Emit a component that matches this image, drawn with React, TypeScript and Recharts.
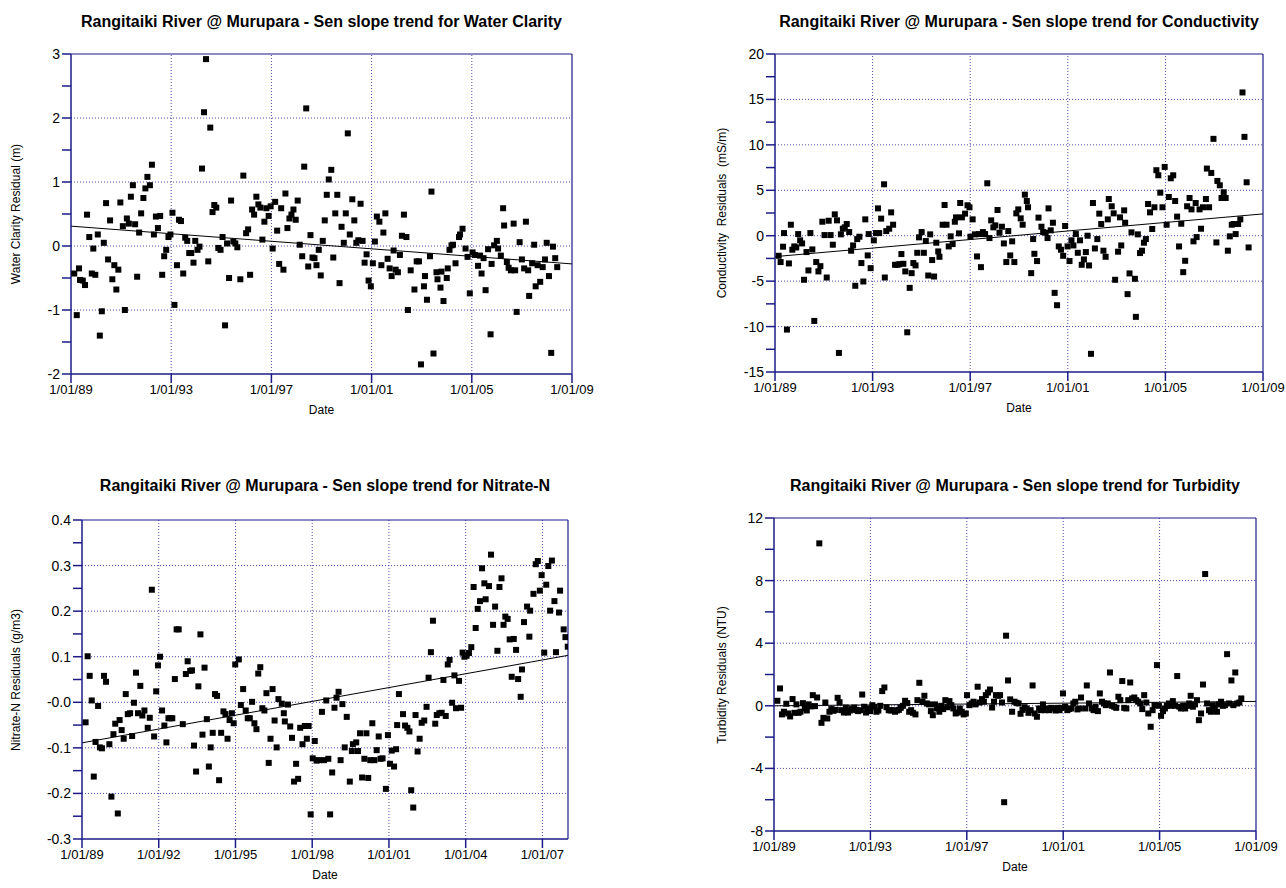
import React from 'react';
import { ScatterChart, Scatter, XAxis, YAxis, ReferenceLine } from 'recharts';

// ---- Water clarity residuals (m) ----
const clarityDates = [
  1989.13, 1989.23, 1989.32, 1989.36, 1989.47, 1989.56, 1989.64, 1989.73, 1989.83, 1989.89,
  1989.97, 1990.07, 1990.15, 1990.23, 1990.31, 1990.4, 1990.48, 1990.56, 1990.65, 1990.73,
  1990.81, 1990.89, 1990.97, 1991.07, 1991.15, 1991.23, 1991.31, 1991.39, 1991.47, 1991.56,
  1991.64, 1991.72, 1991.8, 1991.89, 1991.97, 1992.05, 1992.15, 1992.23, 1992.31, 1992.39,
  1992.47, 1992.56, 1992.64, 1992.72, 1992.8, 1992.89, 1992.97, 1993.05, 1993.13, 1993.23,
  1993.31, 1993.39, 1993.48, 1993.56, 1993.64, 1993.72, 1993.8, 1993.89, 1993.96, 1994.05,
  1994.13, 1994.23, 1994.31, 1994.39, 1994.48, 1994.56, 1994.65, 1994.72, 1994.8, 1994.88,
  1994.97, 1995.05, 1995.15, 1995.23, 1995.31, 1995.39, 1995.48, 1995.56, 1995.64, 1995.76,
  1995.88, 1995.99, 1996.07, 1996.15, 1996.23, 1996.31, 1996.4, 1996.48, 1996.56, 1996.64,
  1996.72, 1996.8, 1996.89, 1996.97, 1997.05, 1997.15, 1997.23, 1997.31, 1997.39, 1997.48,
  1997.56, 1997.64, 1997.72, 1997.8, 1997.88, 1997.97, 1998.05, 1998.13, 1998.23, 1998.31,
  1998.39, 1998.47, 1998.56, 1998.64, 1998.72, 1998.8, 1998.89, 1998.97, 1999.05, 1999.13,
  1999.21, 1999.29, 1999.39, 1999.47, 1999.55, 1999.63, 1999.72, 1999.8, 1999.89, 1999.97,
  2000.05, 2000.13, 2000.23, 2000.31, 2000.39, 2000.47, 2000.56, 2000.64, 2000.72, 2000.8,
  2000.88, 2000.97, 2001.05, 2001.13, 2001.21, 2001.31, 2001.39, 2001.47, 2001.55, 2001.64,
  2001.72, 2001.8, 2001.88, 2001.96, 2002.05, 2002.13, 2002.21, 2002.29, 2002.39, 2002.45,
  2002.56, 2002.71, 2002.8, 2002.89, 2002.97, 2003.09, 2003.13, 2003.21, 2003.33, 2003.39,
  2003.47, 2003.59, 2003.63, 2003.75, 2003.79, 2003.87, 2004.0, 2004.04, 2004.11, 2004.19,
  2004.25, 2004.35, 2004.49, 2004.53, 2004.63, 2004.75, 2004.83, 2004.92, 2005.03, 2005.12,
  2005.25, 2005.33, 2005.39, 2005.47, 2005.55, 2005.65, 2005.75, 2005.79, 2005.89, 2006.0,
  2006.05, 2006.16, 2006.25, 2006.29, 2006.4, 2006.47, 2006.56, 2006.67, 2006.73, 2006.79,
  2006.91, 2007.0, 2007.09, 2007.16, 2007.25, 2007.29, 2007.41, 2007.49, 2007.55, 2007.63,
  2007.73, 2007.83, 2007.92, 2007.99, 2008.08, 2008.17, 2008.24, 2008.33, 2008.41,
];
const clarityValues = [
  -0.43, -1.08, -0.35, -0.53, -0.54, -0.61, 0.49, 0.14, -0.43, -0.04,
  -0.45, 0.18, -1.4, -1.02, 0.05, 0.67, -0.21, 0.4, -0.52, -0.3,
  -0.68, -0.37, 0.68, 0.31, -1.0, 0.43, 0.35, 0.77, 0.95, 0.34,
  -0.48, 0.21, 0.51, 0.75, 0.9, 1.08, 0.95, 1.27, 0.18, 0.46,
  0.28, 0.47, -0.45, -0.16, -0.06, 0.14, 0.18, 0.52, -0.92, -0.3,
  0.41, 0.39, -0.43, 0.13, 0.08, -0.11, -0.11, -0.26, 0.08, -0.06,
  -0.01, 1.21, 2.09, 2.92, -0.24, 1.85, 0.53, 0.64, 0.6, -0.03,
  -0.06, 0.14, -1.24, 0.04, -0.5, 0.71, 0.07, 0.04, -0.02, -0.52,
  1.1, 0.2, 0.26, -0.45, 0.57, 0.49, 0.77, 0.65, 0.6, 0.1,
  0.38, 0.59, 0.47, 0.62, -0.04, 0.69, 0.24, -0.28, 0.59, -0.37,
  0.82, 0.28, 0.43, 0.49, 0.57, 0.41, 0.71, 0.02, -0.16, 1.24,
  2.15, -0.32, 0.17, -0.18, -0.19, -0.3, -0.06, -0.46, 0.08, 0.4,
  0.8, 1.04, 1.19, -0.18, 0.51, 0.8, -0.58, 0.3, 0.05, 0.51,
  1.76, 0.18, 0.73, 0.4, 0.05, 0.09, 0.66, 0.08, -0.26, -0.13,
  -0.54, -0.63, -0.27, 0.07, 0.46, 0.38, -0.3, 0.21, 0.51, -0.2,
  -0.35, -0.47, -0.07, -0.37, -0.41, -0.14, 0.16, 0.49, 0.14, -1.0,
  -0.38, -0.68, -0.24, -0.24, -1.85, -0.63, -0.47, -0.84, -0.16, 0.85,
  -1.68, -0.41, -0.52, -0.65, -0.4, -0.86, -0.5, -0.35, -0.06, 0.01,
  0.02, -0.27, 0.14, 0.18, 0.27, -0.04, -0.17, -0.74, -0.1, -0.14,
  -0.31, -0.15, -0.43, -0.19, -0.69, -0.05, -1.38, -0.28, 0.01, 0.08,
  -0.04, -0.15, 0.59, 0.32, -0.25, -0.34, -0.38, 0.35, -0.38, -1.03,
  0.06, -0.21, -0.35, 0.38, -0.38, -0.78, -0.27, 0.02, -0.63, -0.3,
  -0.56, -0.33, -0.21, 0.05, -0.47, -1.67, -0.01, -0.19, -0.33,
];
const clarityTrend = [{ x: 1989, y: 0.31 }, { x: 2009, y: -0.28 }];
const clarityXDomain = [1989, 2009];
const clarityXTicks = [1989, 1993, 1997, 2001, 2005, 2009];
const clarityYTicks = [3, 2.5, 2, 1.5, 1, 0.5, 0, -0.5, -1, -1.5, -2];
const clarityYMajor = [3, 2, 1, 0, -1, -2];
const clarityYLabels = ['3', '2', '1', '0', '-1', '-2'];

// ---- Conductivity residuals (mS/m) ----
const condDates = [
  1989.15, 1989.23, 1989.33, 1989.37, 1989.49, 1989.57, 1989.65, 1989.71, 1989.79, 1989.87,
  1989.95, 1990.03, 1990.11, 1990.19, 1990.29, 1990.37, 1990.45, 1990.53, 1990.61, 1990.69,
  1990.78, 1990.86, 1990.94, 1991.03, 1991.12, 1991.2, 1991.28, 1991.37, 1991.45, 1991.54,
  1991.62, 1991.7, 1991.78, 1991.86, 1991.94, 1992.04, 1992.12, 1992.2, 1992.29, 1992.37,
  1992.46, 1992.54, 1992.62, 1992.7, 1992.8, 1992.84, 1992.92, 1993.05, 1993.14, 1993.22,
  1993.27, 1993.35, 1993.47, 1993.5, 1993.56, 1993.68, 1993.76, 1993.84, 1993.92, 1994.02,
  1994.1, 1994.18, 1994.26, 1994.34, 1994.42, 1994.52, 1994.6, 1994.67, 1994.76, 1994.83,
  1994.9, 1995.01, 1995.1, 1995.18, 1995.28, 1995.36, 1995.44, 1995.52, 1995.61, 1995.69,
  1995.74, 1995.87, 1995.95, 1996.03, 1996.12, 1996.2, 1996.28, 1996.37, 1996.42, 1996.54,
  1996.59, 1996.66, 1996.79, 1996.89, 1996.97, 1997.01, 1997.1, 1997.19, 1997.28, 1997.36,
  1997.44, 1997.52, 1997.61, 1997.7, 1997.79, 1997.86, 1997.95, 1998.03, 1998.12, 1998.2,
  1998.3, 1998.38, 1998.48, 1998.56, 1998.64, 1998.72, 1998.81, 1998.89, 1998.97, 1999.07,
  1999.15, 1999.24, 1999.32, 1999.37, 1999.5, 1999.58, 1999.63, 1999.74, 1999.8, 1999.92,
  1999.99, 2000.09, 2000.17, 2000.21, 2000.3, 2000.39, 2000.46, 2000.56, 2000.63, 2000.72,
  2000.81, 2000.89, 2000.99, 2001.07, 2001.15, 2001.23, 2001.33, 2001.41, 2001.5, 2001.57,
  2001.66, 2001.74, 2001.81, 2001.87, 2001.95, 2002.03, 2002.11, 2002.21, 2002.29, 2002.37,
  2002.46, 2002.55, 2002.64, 2002.68, 2002.8, 2002.88, 2002.94, 2003.06, 2003.14, 2003.19,
  2003.31, 2003.35, 2003.45, 2003.53, 2003.61, 2003.75, 2003.79, 2003.87, 2003.96, 2004.04,
  2004.12, 2004.2, 2004.29, 2004.37, 2004.46, 2004.55, 2004.63, 2004.71, 2004.79, 2004.88,
  2004.97, 2005.05, 2005.14, 2005.22, 2005.32, 2005.4, 2005.48, 2005.56, 2005.65, 2005.73,
  2005.81, 2005.89, 2005.99, 2006.07, 2006.15, 2006.24, 2006.28, 2006.4, 2006.46, 2006.54,
  2006.66, 2006.7, 2006.79, 2006.88, 2006.97, 2007.09, 2007.13, 2007.23, 2007.3, 2007.39,
  2007.47, 2007.56, 2007.64, 2007.72, 2007.8, 2007.88, 2007.98, 2008.07, 2008.16, 2008.24,
  2008.33, 2008.41,
];
const condValues = [
  -2.21, -2.9, -1.21, 0.29, -10.33, -3.05, 1.21, -1.54, -1.18, -1.29,
  0.18, -0.51, -0.85, -4.85, -1.8, -3.82, 0.29, -1.51, -9.38, -2.9,
  -3.93, -3.35, 1.54, 0.07, -4.6, 1.65, 0.07, -0.99, 2.35, 1.69,
  -12.9, 0.15, 0.77, 0.92, 1.29, 0.4, -1.65, -1.07, -5.51, -0.37,
  -0.11, -3.01, -5.04, 1.8, -2.17, 0.18, -3.57, -0.51, 0.29, 3.01,
  0.29, 1.88, 5.66, -4.6, 0.51, 0.77, 2.57, 1.21, -3.2, -3.2,
  -3.13, -2.02, -3.09, -3.93, -10.63, -5.74, -4.12, -3.01, -3.27, -1.88,
  -0.18, 0.4, -1.88, -0.59, -4.38, 0.15, -2.68, -4.49, -0.77, -1.73,
  -2.32, 1.21, 3.38, 1.21, -1.18, -0.07, -0.92, 1.54, 2.02, 0.26,
  3.6, 2.02, 2.43, 3.35, 3.13, -0.11, 1.8, 0.15, -2.28, 0.18,
  -3.46, 0.4, 0.18, 5.77, -0.26, 1.69, 0.92, 1.14, 2.83, 0.33,
  0.99, -0.85, -2.9, 0.51, -2.17, -0.62, -2.9, 2.46, 2.9, 1.91,
  1.21, 4.52, 3.82, 3.13, -4.12, -0.37, -1.99, -2.79, 1.99, 0.99,
  0.4, 0.33, -0.26, 3.01, 0.59, 1.43, -6.29, -7.65, -1.18, -1.54,
  -2.21, 1.07, -1.18, -2.79, -0.51, -1.07, 0.18, -1.88, -0.51, -3.2,
  -2.61, -1.8, 0.0, -3.27, -13.0, 3.6, -1.4, -0.37, 2.43, 1.29,
  -1.65, -2.32, 1.8, 4.04, 3.24, 2.46, -4.85, -1.76, 2.02, -1.07,
  2.79, 1.43, -6.43, -4.15, 0.37, -4.74, -8.93, 0.15, -1.91, -1.65,
  -0.77, -0.37, 3.49, 2.57, 0.74, 3.13, 7.21, 6.65, 4.74, 3.13,
  7.57, 1.21, 4.26, 6.32, 6.65, 3.82, 2.1, -1.18, 1.32, -4.01,
  -2.76, 3.24, 4.15, 2.9, -0.62, 3.6, -0.15, 2.9, 0.77, 3.13,
  4.04, 7.39, 3.13, 6.91, 10.66, -0.74, 6.03, 5.55, 4.15, 4.78,
  4.15, -1.65, -0.07, 1.21, 1.29, 0.18, 1.29, 1.8, 15.77, 10.88,
  5.88, -1.29,
];
const condTrend = [{ x: 1989, y: -2.3 }, { x: 2009, y: 2.4 }];
const condXDomain = [1989, 2009];
const condXTicks = [1989, 1993, 1997, 2001, 2005, 2009];
const condYTicks = [20, 17.5, 15, 12.5, 10, 7.5, 5, 2.5, 0, -2.5, -5, -7.5, -10, -12.5, -15];
const condYMajor = [20, 15, 10, 5, 0, -5, -10, -15];
const condYLabels = ['20', '15', '10', '5', '0', '-5', '-10', '-15'];

// ---- Nitrate-N residuals (g/m3) ----
const nitrateDates = [
  1989.14, 1989.22, 1989.3, 1989.38, 1989.46, 1989.53, 1989.63, 1989.7, 1989.78, 1989.86,
  1989.94, 1990.07, 1990.15, 1990.23, 1990.3, 1990.4, 1990.47, 1990.55, 1990.63, 1990.71,
  1990.79, 1990.88, 1990.96, 1991.03, 1991.11, 1991.19, 1991.28, 1991.36, 1991.44, 1991.57,
  1991.65, 1991.73, 1991.82, 1991.9, 1991.97, 1992.05, 1992.13, 1992.22, 1992.3, 1992.38,
  1992.46, 1992.53, 1992.63, 1992.7, 1992.78, 1992.94, 1993.06, 1993.13, 1993.23, 1993.3,
  1993.38, 1993.46, 1993.55, 1993.63, 1993.71, 1993.79, 1993.88, 1993.96, 1994.03, 1994.11,
  1994.2, 1994.28, 1994.36, 1994.44, 1994.53, 1994.61, 1994.69, 1994.77, 1994.86, 1994.93,
  1994.99, 1995.13, 1995.21, 1995.3, 1995.4, 1995.48, 1995.56, 1995.65, 1995.74, 1995.82,
  1995.89, 1995.97, 1996.05, 1996.13, 1996.21, 1996.3, 1996.37, 1996.45, 1996.53, 1996.61,
  1996.68, 1996.81, 1996.89, 1996.93, 1997.05, 1997.14, 1997.21, 1997.29, 1997.37, 1997.45,
  1997.53, 1997.62, 1997.71, 1997.79, 1997.86, 1997.94, 1998.02, 1998.1, 1998.17, 1998.25,
  1998.38, 1998.46, 1998.55, 1998.63, 1998.7, 1998.78, 1998.87, 1998.95, 1999.03, 1999.11,
  1999.18, 1999.27, 1999.35, 1999.47, 1999.55, 1999.59, 1999.72, 1999.79, 1999.87, 1999.95,
  2000.04, 2000.12, 2000.19, 2000.27, 2000.35, 2000.43, 2000.52, 2000.6, 2000.67, 2000.75,
  2000.88, 2000.96, 2001.04, 2001.11, 2001.2, 2001.28, 2001.32, 2001.39, 2001.55, 2001.63,
  2001.72, 2001.8, 2001.87, 2001.95, 2002.04, 2002.12, 2002.2, 2002.28, 2002.38, 2002.47,
  2002.55, 2002.64, 2002.72, 2002.81, 2002.87, 2002.97, 2003.06, 2003.13, 2003.22, 2003.3,
  2003.37, 2003.47, 2003.56, 2003.62, 2003.74, 2003.82, 2003.88, 2003.95, 2004.03, 2004.13,
  2004.22, 2004.31, 2004.39, 2004.47, 2004.56, 2004.64, 2004.73, 2004.78, 2004.91, 2004.99,
  2005.07, 2005.15, 2005.24, 2005.32, 2005.4, 2005.48, 2005.55, 2005.64, 2005.72, 2005.8,
  2005.88, 2005.97, 2006.05, 2006.15, 2006.2, 2006.28, 2006.4, 2006.49, 2006.52, 2006.65,
  2006.74, 2006.82, 2006.9, 2006.97, 2007.07, 2007.15, 2007.23, 2007.3, 2007.37, 2007.47,
  2007.53, 2007.65, 2007.69, 2007.83, 2007.9, 2007.99,
];
const nitrateValues = [
  -0.044, 0.101, 0.058, 0.004, -0.163, -0.087, -0.008, -0.099, -0.101, 0.058,
  0.045, -0.092, -0.207, -0.07, -0.047, -0.244, -0.039, -0.061, -0.08, 0.018,
  -0.026, -0.024, -0.074, -0.001, 0.065, -0.024, 0.036, -0.029, -0.018, -0.056,
  -0.034, 0.247, -0.075, 0.024, 0.081, 0.1, -0.018, -0.051, -0.088, -0.035,
  -0.035, -0.035, 0.051, 0.16, 0.16, -0.048, 0.062, 0.09, 0.069, 0.07,
  -0.095, -0.152, 0.035, 0.149, -0.071, 0.076, -0.037, -0.141, -0.099, -0.067,
  0.018, 0.014, -0.171, -0.067, -0.02, -0.026, -0.08, -0.039, -0.024, -0.046,
  0.083, 0.094, -0.006, 0.029, -0.018, -0.035, -0.035, 0.001, -0.046, -0.059,
  0.063, 0.077, -0.013, -0.018, 0.02, -0.133, -0.08, 0.029, -0.04, -0.099,
  0.007, -0.003, -0.024, -0.042, -0.005, -0.053, -0.078, -0.174, -0.135, -0.168,
  -0.056, -0.092, -0.052, -0.08, -0.052, -0.246, -0.123, -0.085, -0.128, -0.127,
  -0.021, -0.127, 0.004, -0.124, -0.246, -0.154, -0.012, 0.01, 0.023, -0.127,
  -0.004, -0.099, -0.032, -0.174, -0.107, -0.092, -0.088, -0.107, -0.068, -0.165,
  -0.124, -0.068, -0.166, -0.127, -0.046, -0.127, -0.105, -0.075, -0.124, -0.123,
  -0.19, -0.072, -0.135, -0.106, -0.141, -0.103, -0.05, 0.018, -0.026, -0.051,
  -0.056, -0.064, -0.193, -0.231, -0.028, -0.108, -0.08, -0.045, -0.04, -0.01,
  0.054, 0.11, 0.179, -0.047, -0.028, -0.024, -0.023, 0.049, -0.03, 0.083,
  0.093, -0.001, 0.059, -0.013, 0.047, -0.012, 0.109, 0.1, 0.102, 0.108,
  0.121, 0.253, 0.163, 0.205, 0.222, 0.294, 0.261, 0.226, 0.255, 0.324,
  0.17, 0.21, 0.113, 0.253, 0.272, 0.17, 0.188, 0.183, 0.138, 0.056,
  0.139, 0.115, 0.051, 0.012, 0.072, 0.176, 0.21, 0.144, 0.201, 0.238,
  0.303, 0.31, 0.245, 0.279, 0.109, 0.258, 0.299, 0.201, 0.311, 0.222,
  0.11, 0.197, 0.245, 0.16, 0.143, 0.122,
];
const nitrateTrend = [{ x: 1989, y: -0.089 }, { x: 2008, y: 0.103 }];
const nitrateXDomain = [1989, 2008];
const nitrateXTicks = [1989, 1992, 1995, 1998, 2001, 2004, 2007];
const nitrateYTicks = [0.4, 0.35, 0.3, 0.25, 0.2, 0.15, 0.1, 0.05, 0, -0.05, -0.1, -0.15, -0.2, -0.25, -0.3];
const nitrateYMajor = [0.4, 0.3, 0.2, 0.1, 0, -0.1, -0.2, -0.3];
const nitrateYLabels = ['0.4', '0.3', '0.2', '0.1', '-0.0', '-0.1', '-0.2', '-0.3'];

// ---- Turbidity residuals (NTU) ----
const turbDates = [
  1989.14, 1989.25, 1989.33, 1989.41, 1989.51, 1989.59, 1989.67, 1989.77, 1989.85, 1989.93,
  1990.02, 1990.1, 1990.2, 1990.28, 1990.36, 1990.44, 1990.53, 1990.61, 1990.7, 1990.79,
  1990.88, 1990.97, 1991.05, 1991.13, 1991.21, 1991.3, 1991.38, 1991.47, 1991.56, 1991.64,
  1991.72, 1991.8, 1991.9, 1991.98, 1992.07, 1992.15, 1992.23, 1992.33, 1992.41, 1992.49,
  1992.57, 1992.66, 1992.74, 1992.82, 1992.9, 1992.99, 1993.08, 1993.16, 1993.25, 1993.33,
  1993.41, 1993.49, 1993.58, 1993.67, 1993.76, 1993.84, 1993.92, 1994.02, 1994.1, 1994.18,
  1994.26, 1994.35, 1994.44, 1994.53, 1994.61, 1994.69, 1994.77, 1994.87, 1994.95, 1995.03,
  1995.16, 1995.24, 1995.34, 1995.43, 1995.51, 1995.59, 1995.68, 1995.76, 1995.86, 1995.94,
  1996.02, 1996.11, 1996.19, 1996.28, 1996.36, 1996.44, 1996.54, 1996.62, 1996.71, 1996.79,
  1996.87, 1996.96, 1997.01, 1997.11, 1997.2, 1997.28, 1997.36, 1997.45, 1997.53, 1997.63,
  1997.71, 1997.79, 1997.88, 1997.96, 1998.05, 1998.13, 1998.21, 1998.3, 1998.38, 1998.46,
  1998.55, 1998.63, 1998.71, 1998.8, 1998.88, 1998.98, 1999.06, 1999.15, 1999.23, 1999.31,
  1999.4, 1999.48, 1999.56, 1999.65, 1999.73, 1999.82, 1999.91, 2000.0, 2000.08, 2000.16,
  2000.25, 2000.33, 2000.41, 2000.5, 2000.6, 2000.68, 2000.76, 2000.85, 2000.93, 2000.99,
  2001.08, 2001.17, 2001.25, 2001.33, 2001.42, 2001.5, 2001.59, 2001.67, 2001.74, 2001.91,
  2001.98, 2002.07, 2002.18, 2002.26, 2002.34, 2002.44, 2002.52, 2002.61, 2002.69, 2002.77,
  2002.85, 2002.94, 2003.03, 2003.12, 2003.2, 2003.29, 2003.37, 2003.45, 2003.53, 2003.62,
  2003.7, 2003.78, 2003.86, 2003.95, 2004.03, 2004.11, 2004.2, 2004.28, 2004.36, 2004.45,
  2004.53, 2004.63, 2004.71, 2004.79, 2004.89, 2004.97, 2005.06, 2005.14, 2005.22, 2005.3,
  2005.39, 2005.47, 2005.55, 2005.64, 2005.73, 2005.82, 2005.89, 2005.98, 2006.06, 2006.15,
  2006.23, 2006.29, 2006.38, 2006.47, 2006.55, 2006.63, 2006.72, 2006.8, 2006.89, 2006.97,
  2007.05, 2007.13, 2007.21, 2007.29, 2007.38, 2007.46, 2007.55, 2007.63, 2007.71, 2007.8,
  2007.88, 2007.98, 2008.06, 2008.14, 2008.22, 2008.31, 2008.39,
];
const turbValues = [
  0.32, 1.11, -0.55, -0.38, 0.13, -0.49, -0.68, 0.43, -0.45, 0.09,
  -0.45, -0.38, 0.17, -0.17, -0.3, 0.09, -0.04, 0.68, -0.02, 0.53,
  10.38, -1.09, -0.77, 0.21, -0.81, -0.38, -0.21, -0.32, -0.26, 0.51,
  0.23, -0.28, -0.43, -0.11, -0.43, -0.3, -0.21, -0.11, -0.28, -0.34,
  -0.28, 0.72, -0.06, -0.43, -0.17, -0.34, 0.04, -0.06, -0.38, -0.3,
  0.0, 0.94, 1.17, -0.09, -0.28, -0.3, -0.28, -0.38, -0.3, -0.26,
  -0.13, 0.0, 0.32, 0.17, -0.38, -0.28, -0.45, -0.55, 0.36, 1.47,
  0.26, 0.64, 0.15, 0.09, -0.34, -0.6, 0.09, -0.17, -0.38, 0.0,
  -0.21, 0.36, -0.09, 0.3, 0.04, -0.17, -0.49, -0.43, -0.17, -0.38,
  -0.55, -0.49, 0.68, 0.04, 0.15, 0.26, 0.09, 1.22, 0.21, 0.43,
  0.26, 0.68, 0.85, 1.04, -0.11, 0.26, 0.68, 0.64, 0.68, 0.21,
  -6.16, 4.48, 1.62, 0.41, -0.38, 0.26, 0.19, 0.15, -0.51, -0.26,
  -0.09, -0.17, -0.45, -0.28, 1.3, -0.49, -0.7, -0.17, -0.28, 0.09,
  -0.28, -0.17, -0.28, -0.13, -0.17, -0.3, -0.13, -0.28, -0.13, 0.79,
  -0.06, -0.28, -0.21, -0.17, 0.15, 0.26, -0.23, -0.17, 0.53, -0.17,
  1.3, 0.15, -0.17, -0.28, -0.06, -0.34, 0.79, 0.26, 0.15, 0.04,
  0.15, 2.13, 0.0, -0.06, -0.13, 0.58, 0.36, 1.58, -0.13, -0.17,
  0.36, 1.49, 0.47, 0.53, 0.36, 0.26, 0.15, -0.21, 0.68, 0.21,
  -0.49, -1.34, -0.28, 0.04, 2.6, 0.0, -0.64, -0.34, -0.17, 0.0,
  0.15, 0.0, 0.3, 0.0, 1.9, -0.06, -0.17, 0.0, -0.17, 0.0,
  0.15, 0.64, -0.06, 0.09, 0.36, -0.92, -0.49, 1.36, 8.42, 0.15,
  -0.28, -0.38, 0.04, -0.17, -0.38, 0.09, 0.26, 0.0, 0.04, 3.3,
  0.15, 1.62, 0.04, 2.13, 0.15, 0.21, 0.47,
];
const turbTrend = [{ x: 1989, y: 0.0 }, { x: 2009, y: 0.28 }];
const turbXDomain = [1989, 2009];
const turbXTicks = [1989, 1993, 1997, 2001, 2005, 2009];
const turbYTicks = [12, 10, 8, 6, 4, 2, 0, -2, -4, -6, -8];
const turbYMajor = [12, 8, 4, 0, -4, -8];
const turbYLabels = ['12', '8', '4', '0', '-4', '-8'];

const NAVY = '#1c1c88';
const GRID = '#4a4ab0';
const FONT = '"Liberation Sans", Arial, sans-serif';

const fmtDate = (v: number) => `1/01/${String(Math.round(v) % 100).padStart(2, '0')}`;

const Square = (props: any) => {
  const { cx, cy } = props;
  if (cx == null || cy == null) return <g />;
  return <rect x={cx - 3} y={cy - 3} width={6} height={6} fill="#000" />;
};

type PanelProps = {
  left: number; top: number; width: number; height: number;
  plotLeft: number; plotTop: number; plotRight: number; plotBottom: number;
  titleTop: number; yLabelX: number;
  title: string; yLabel: string;
  dates: number[]; values: number[];
  xDomain: number[]; xTicks: number[];
  yTicks: number[]; yMajor: number[]; yLabels: string[];
  trend: { x: number; y: number }[];
};

function Panel(p: PanelProps) {
  const data = p.dates.map((x, i) => ({ x, y: p.values[i] }));
  const xMax = p.xDomain[1];
  const yMax = p.yMajor[0];
  const yMin = p.yMajor[p.yMajor.length - 1];
  const xAxisH = 40;
  const margin = {
    top: p.plotTop - p.top,
    left: 0,
    right: p.left + p.width - p.plotRight,
    bottom: p.top + p.height - p.plotBottom - xAxisH,
  };
  const yAxisW = p.plotLeft - p.left;
  const midX = (p.plotLeft + p.plotRight) / 2;
  const midY = (p.plotTop + p.plotBottom) / 2;

  const YTick = (t: any) => {
    const idx = p.yMajor.findIndex((m) => Math.abs(m - t.payload.value) < 1e-9);
    if (idx < 0) return <g />;
    return (
      <text x={t.x} y={t.y} dy={5} textAnchor="end" fill="#000" fontSize={14} fontFamily={FONT}>
        {p.yLabels[idx]}
      </text>
    );
  };

  return (
    <>
      <div style={{ position: 'absolute', left: midX, top: p.titleTop, transform: 'translateX(-50%)', whiteSpace: 'nowrap', fontFamily: FONT, fontWeight: 'bold', fontSize: 16, color: '#000' }}>
        {p.title}
      </div>
      <div style={{ position: 'absolute', left: p.yLabelX, top: midY, transform: 'translate(-50%, -50%) rotate(-90deg)', whiteSpace: 'pre', fontFamily: FONT, fontSize: 12, color: '#000' }}>
        {p.yLabel}
      </div>
      <div style={{ position: 'absolute', left: midX, top: p.plotBottom + 29, transform: 'translateX(-50%)', fontFamily: FONT, fontSize: 12, color: '#000' }}>
        Date
      </div>
      <div style={{ position: 'absolute', left: p.left, top: p.top }}>
        <ScatterChart width={p.width} height={p.height} margin={margin}>
          <XAxis
            type="number"
            dataKey="x"
            domain={p.xDomain}
            ticks={p.xTicks}
            interval={0}
            allowDataOverflow
            tickFormatter={fmtDate}
            stroke={NAVY}
            strokeWidth={1.5}
            tickSize={9}
            tick={{ fill: '#000', fontSize: 13, fontFamily: FONT }}
            height={xAxisH}
          />
          <YAxis
            type="number"
            dataKey="y"
            domain={[yMin, yMax]}
            ticks={p.yTicks}
            interval={0}
            allowDataOverflow
            stroke={NAVY}
            strokeWidth={1.5}
            tickSize={9}
            tick={YTick}
            width={yAxisW}
          />
          {p.xTicks.filter((v) => v > p.xDomain[0] && v < p.xDomain[1]).map((v) => (
            <ReferenceLine key={'gx' + v} x={v} stroke={GRID} strokeDasharray="1 2" />
          ))}
          {p.yMajor.slice(1, -1).map((v) => (
            <ReferenceLine key={'gy' + v} y={v} stroke={GRID} strokeDasharray="1 2" />
          ))}
          <ReferenceLine y={yMax} stroke={NAVY} strokeWidth={1.2} />
          <ReferenceLine x={xMax} stroke={NAVY} strokeWidth={1.2} />
          <Scatter data={data} shape={Square} isAnimationActive={false} />
          <ReferenceLine segment={p.trend} stroke="#000" strokeWidth={1} />
        </ScatterChart>
      </div>
    </>
  );
}

const TITLE = 'Rangitaiki River @ Murupara - Sen slope trend for ';

export default function App() {
  return (
    <div style={{ position: 'absolute', left: 0, top: 0, width: 1286, height: 888, background: '#fff', overflow: 'hidden' }}>
      <Panel
        left={0} top={0} width={640} height={440}
        plotLeft={71} plotTop={54} plotRight={572} plotBottom={374}
        titleTop={13} yLabelX={16}
        title={TITLE + 'Water Clarity'} yLabel="Water Clarity Residual (m)"
        dates={clarityDates} values={clarityValues}
        xDomain={clarityXDomain} xTicks={clarityXTicks}
        yTicks={clarityYTicks} yMajor={clarityYMajor} yLabels={clarityYLabels}
        trend={clarityTrend}
      />
      <Panel
        left={650} top={0} width={636} height={440}
        plotLeft={775} plotTop={54} plotRight={1263} plotBottom={372}
        titleTop={13} yLabelX={722}
        title={TITLE + 'Conductivity'} yLabel="Conductivity  Residuals  (mS/m)"
        dates={condDates} values={condValues}
        xDomain={condXDomain} xTicks={condXTicks}
        yTicks={condYTicks} yMajor={condYMajor} yLabels={condYLabels}
        trend={condTrend}
      />
      <Panel
        left={0} top={445} width={640} height={443}
        plotLeft={82} plotTop={520} plotRight={568} plotBottom={839}
        titleTop={477} yLabelX={16}
        title={TITLE + 'Nitrate-N'} yLabel="Nitrate-N Residuals (g/m3)"
        dates={nitrateDates} values={nitrateValues}
        xDomain={nitrateXDomain} xTicks={nitrateXTicks}
        yTicks={nitrateYTicks} yMajor={nitrateYMajor} yLabels={nitrateYLabels}
        trend={nitrateTrend}
      />
      <Panel
        left={650} top={445} width={636} height={443}
        plotLeft={774} plotTop={518} plotRight={1256} plotBottom={831}
        titleTop={477} yLabelX={722}
        title={TITLE + 'Turbidity'} yLabel="Turbidity Residuals (NTU)"
        dates={turbDates} values={turbValues}
        xDomain={turbXDomain} xTicks={turbXTicks}
        yTicks={turbYTicks} yMajor={turbYMajor} yLabels={turbYLabels}
        trend={turbTrend}
      />
    </div>
  );
}
